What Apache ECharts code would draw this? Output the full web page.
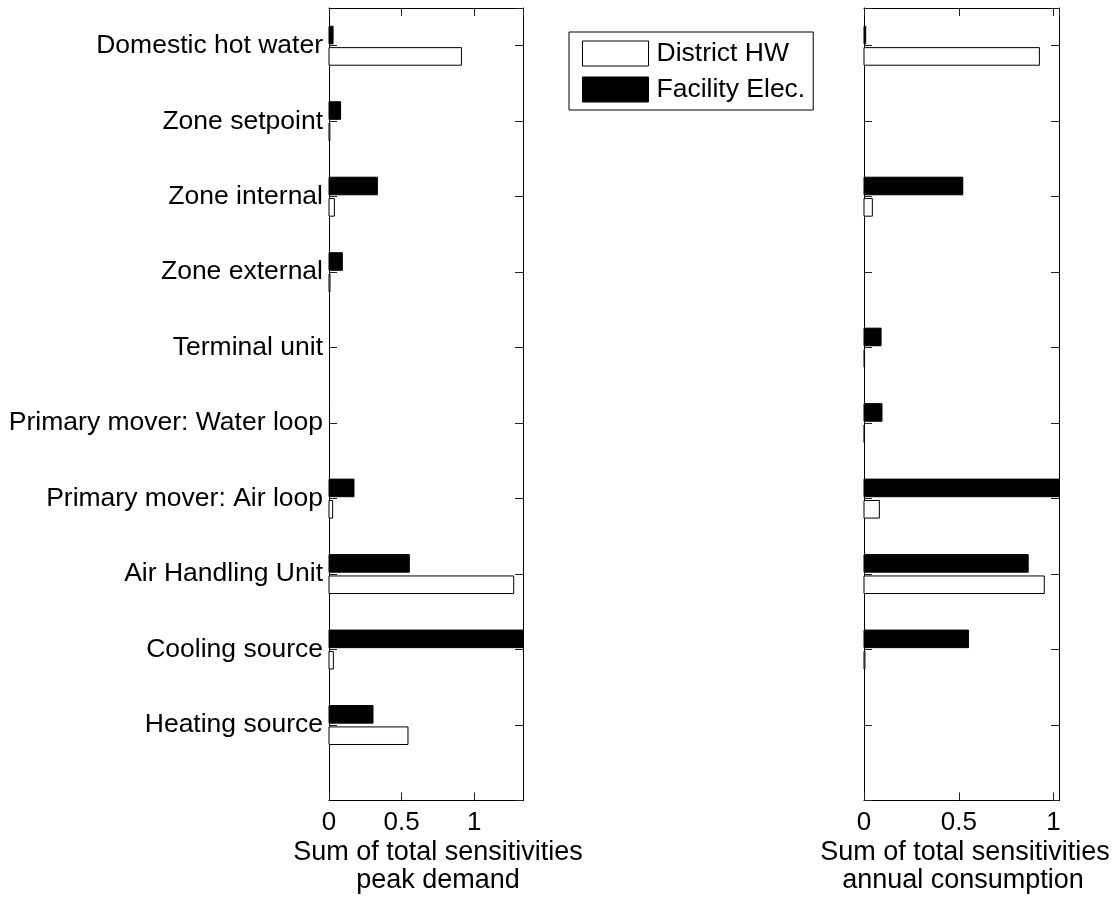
<!DOCTYPE html>
<html>
<head>
<meta charset="utf-8">
<script src="https://cdn.jsdelivr.net/npm/echarts@6/dist/echarts.min.js"></script>
<style>
  html, body { margin: 0; padding: 0; background: #fff; }
  #chart { width: 1115px; height: 897px; }
</style>
</head>
<body>
<div id="chart"></div>
<script>
// Subsystem categories, listed bottom (y = 1) to top (y = 10)
var categories = [
  'Heating source',
  'Cooling source',
  'Air Handling Unit',
  'Primary mover: Air loop',
  'Primary mover: Water loop',
  'Terminal unit',
  'Zone external',
  'Zone internal',
  'Zone setpoint',
  'Domestic hot water'
];

// Sum of total sensitivities, peak demand
var peakDistrictHW   = [0.544, 0.030, 1.272, 0.025, 0,     0,     0.007, 0.037, 0.006, 0.912];
var peakFacilityElec = [0.303, 1.336, 0.553, 0.172, 0,     0,     0.092, 0.333, 0.080, 0.028];

// Sum of total sensitivities, annual consumption
var annualDistrictHW   = [0,     0.005, 0.951, 0.081,  0.002, 0.003, 0,     0.044, 0,     0.925];
var annualFacilityElec = [0,     0.551, 0.866, 1.0285, 0.095, 0.090, 0,     0.521, 0,     0.009];

var xTicks = [0, 0.5, 1];
var seriesNames = ['District HW', 'Facility Elec.'];
var xTitles = [
  ['Sum of total sensitivities', 'peak demand'],
  ['Sum of total sensitivities', 'annual consumption']
];

var FONT = '"Liberation Sans", Arial, Helvetica, sans-serif';
var FS_LABEL = 26.5;
var FS_TITLE = 27;
var FS_TICK = 26;

function pairs(values) {
  return values.map(function (v, i) { return [v, i + 1]; });
}

// Bars sit either just above (Elec.) or just below (HW) each category tick
function barRenderer(above, fillColor) {
  return function (params, api) {
    var v = api.value(0), c = api.value(1);
    if (!v) return;
    var y0 = above ? c + 0.258 : c - 0.025;
    var y1 = above ? c + 0.025 : c - 0.258;
    var p0 = api.coord([0, y0]);
    var p1 = api.coord([v, y1]);
    return {
      type: 'rect',
      shape: { x: p0[0], y: p0[1], width: p1[0] - p0[0], height: p1[1] - p0[1] },
      style: { fill: fillColor, stroke: '#000', lineWidth: 1 }
    };
  };
}

function xAxes(gridIndex, maxVal) {
  var common = {
    type: 'value', gridIndex: gridIndex, min: 0, max: maxVal, interval: 0.5,
    splitLine: { show: false },
    axisLine: { show: true, onZero: false, lineStyle: { color: '#000', width: 1 } },
    axisTick: { show: true, inside: true, length: 8, lineStyle: { color: '#222' } }
  };
  return [
    Object.assign({}, common, {
      position: 'bottom',
      axisLabel: {
        show: true, margin: 9, fontSize: FS_TICK, fontFamily: FONT, color: '#000',
        showMaxLabel: false,
        formatter: function (v) { return xTicks.indexOf(v) >= 0 ? String(v) : ''; }
      }
    }),
    Object.assign({}, common, { position: 'top', axisLabel: { show: false } })
  ];
}

function yAxes(gridIndex, withLabels) {
  var common = {
    type: 'value', gridIndex: gridIndex, min: 0, max: 10.5, interval: 1,
    splitLine: { show: false },
    axisLine: { show: true, onZero: false, lineStyle: { color: '#000', width: 1 } },
    axisTick: { show: true, inside: true, length: 8, lineStyle: { color: '#222' } }
  };
  return [
    Object.assign({}, common, {
      position: 'left',
      axisLabel: {
        show: withLabels, margin: 6, fontSize: FS_LABEL, fontFamily: FONT, color: '#000',
        padding: [4, 0, 0, 0],
        showMaxLabel: false, showMinLabel: false,
        formatter: function (v) { return categories[v - 1] || ''; }
      }
    }),
    Object.assign({}, common, { position: 'right', axisLabel: { show: false } })
  ];
}

var maxPeak = Math.max.apply(null, peakDistrictHW.concat(peakFacilityElec));
var maxAnnual = Math.max.apply(null, annualDistrictHW.concat(annualFacilityElec));

function titleText(x, y, text) {
  return {
    type: 'text', x: x, y: y,
    style: { text: text, align: 'center', verticalAlign: 'middle', fontSize: FS_TITLE, fontFamily: FONT, fill: '#000' }
  };
}

var option = {
  animation: false,
  backgroundColor: '#fff',
  textStyle: { fontFamily: FONT },
  grid: [
    { left: 329, top: 8, width: 194, height: 792.5 },
    { left: 864, top: 8, width: 195, height: 792.5 }
  ],
  xAxis: xAxes(0, maxPeak).concat(xAxes(1, maxAnnual)),
  yAxis: yAxes(0, true).concat(yAxes(1, false)),
  legend: {
    orient: 'vertical',
    left: 569, top: 32,
    padding: [8, 8, 7, 13],
    itemGap: 9,
    itemWidth: 66, itemHeight: 25,
    borderColor: '#000', borderWidth: 1, backgroundColor: '#fff',
    textStyle: { fontSize: FS_LABEL, fontFamily: FONT, color: '#000', padding: [0, 0, 0, 3] },
    data: [
      { name: seriesNames[0], icon: 'rect', itemStyle: { color: '#fff', borderColor: '#000', borderWidth: 1 } },
      { name: seriesNames[1], icon: 'rect', itemStyle: { color: '#000', borderColor: '#000', borderWidth: 1 } }
    ]
  },
  series: [
    {
      name: seriesNames[0], type: 'custom', xAxisIndex: 0, yAxisIndex: 0,
      itemStyle: { color: '#fff', borderColor: '#000' },
      renderItem: barRenderer(false, '#fff'), data: pairs(peakDistrictHW), clip: false
    },
    {
      name: seriesNames[1], type: 'custom', xAxisIndex: 0, yAxisIndex: 0,
      itemStyle: { color: '#000' },
      renderItem: barRenderer(true, '#000'), data: pairs(peakFacilityElec), clip: false
    },
    {
      name: seriesNames[0], type: 'custom', xAxisIndex: 2, yAxisIndex: 2,
      itemStyle: { color: '#fff', borderColor: '#000' },
      renderItem: barRenderer(false, '#fff'), data: pairs(annualDistrictHW), clip: false
    },
    {
      name: seriesNames[1], type: 'custom', xAxisIndex: 2, yAxisIndex: 2,
      itemStyle: { color: '#000' },
      renderItem: barRenderer(true, '#000'), data: pairs(annualFacilityElec), clip: false
    }
  ],
  graphic: [
    titleText(438, 853, xTitles[0][0]),
    titleText(438, 881, xTitles[0][1]),
    titleText(965, 853, xTitles[1][0]),
    titleText(963, 881, xTitles[1][1])
  ]
};

var chart = echarts.init(document.getElementById('chart'), null, { renderer: 'canvas' });
chart.setOption(option);
</script>
</body>
</html>
